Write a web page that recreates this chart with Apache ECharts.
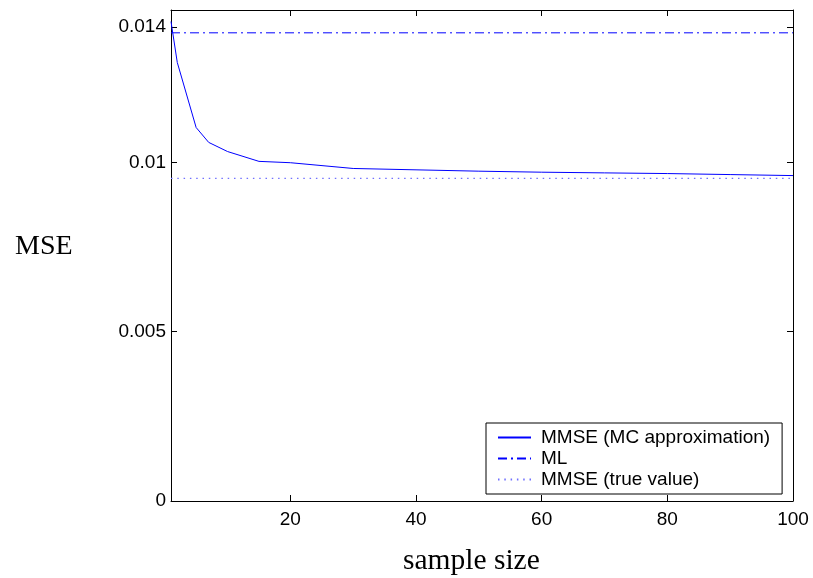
<!DOCTYPE html>
<html>
<head>
<meta charset="utf-8">
<script src="https://cdn.jsdelivr.net/npm/echarts@6/dist/echarts.min.js"></script>
<style>html,body{margin:0;padding:0;background:#fff}#c{width:813px;height:578px}</style>
</head>
<body>
<div id="c"></div>
<script>
const sampleSizes = [1, 2, 5, 7, 10, 15, 20, 30, 40, 50, 60, 70, 80, 90, 100];
const mmseMC = [0.01416, 0.01295, 0.01103, 0.01059, 0.01032, 0.01003, 0.00999, 0.00982, 0.00978, 0.00974, 0.00971, 0.00969, 0.00967, 0.00964, 0.00961];
const mlValue = 0.013826;
const mmseTrue = 0.009528;
const xTicks = [20, 40, 60, 80, 100];
const yTicks = [0, 0.005, 0.01, 0.014];
const yTickLabels = ['0', '0.005', '0.01', '0.014'];
const seriesNames = ['MMSE (MC approximation)', 'ML', 'MMSE (true value)'];

const xRange = [sampleSizes[0], sampleSizes[sampleSizes.length - 1]];
const sansFont = 'Liberation Sans';
const serifFont = 'Liberation Serif';

const chart = echarts.init(document.getElementById('c'), null, {renderer: 'canvas'});

function xAxisDef(pos, showLabel) {
  return {
    type: 'value', position: pos, min: 1, max: 100,
    axisLine: {show: true, onZero: false, lineStyle: {color: '#000', width: 1}},
    axisTick: {show: true, inside: true, length: 6, customValues: xTicks, lineStyle: {color: '#000'}},
    axisLabel: {show: showLabel, customValues: xTicks, color: '#000', fontFamily: sansFont, fontSize: 19, margin: 9},
    splitLine: {show: false}
  };
}
function yAxisDef(pos, showLabel) {
  return {
    type: 'value', position: pos, min: 0, max: 0.0145,
    axisLine: {show: true, onZero: false, lineStyle: {color: '#000', width: 1}},
    axisTick: {show: true, inside: true, length: 6, customValues: yTicks, lineStyle: {color: '#000'}},
    axisLabel: {show: showLabel, customValues: yTicks, color: '#000', fontFamily: sansFont, fontSize: 19, margin: 5,
      formatter: v => { const i = yTicks.findIndex(t => Math.abs(t - v) < 1e-9); return i >= 0 ? yTickLabels[i] : ''; }},
    splitLine: {show: false}
  };
}

chart.setOption({
  animation: false,
  backgroundColor: '#fff',
  grid: {left: 171, right: 20, top: 10, bottom: 77, containLabel: false},
  xAxis: [xAxisDef('bottom', true), xAxisDef('top', false)],
  yAxis: [yAxisDef('left', true), yAxisDef('right', false)],
  legend: {
    orient: 'vertical', left: 486, top: 423,
    backgroundColor: '#fff', borderColor: '#000', borderWidth: 1, borderRadius: 0,
    padding: [4, 12, 4, 11], itemGap: 0, itemWidth: 33, itemHeight: 20,
    itemStyle: {opacity: 0},
    textStyle: {color: '#000', fontFamily: sansFont, fontSize: 19, lineHeight: 21, padding: [0, 0, 0, 5]},
    data: seriesNames
  },
  graphic: [
    {type: 'text', left: 15, top: 233, style: {text: 'MSE', font: '28px "' + serifFont + '"', fill: '#000'}},
    {type: 'text', left: 403, top: 546, style: {text: 'sample size', font: '29.5px "' + serifFont + '"', fill: '#000'}}
  ],
  series: [
    {name: seriesNames[0], type: 'line', symbol: 'none', data: sampleSizes.map((s, i) => [s, mmseMC[i]]),
      lineStyle: {color: '#0000ff', width: 1}, itemStyle: {color: '#0000ff'}},
    {name: seriesNames[1], type: 'line', symbol: 'none', data: xRange.map(s => [s, mlValue]),
      lineStyle: {color: '#0000ff', width: 1, type: [9, 4, 2, 4]}, itemStyle: {color: '#0000ff'}},
    {name: seriesNames[2], type: 'line', symbol: 'none', data: xRange.map(s => [s, mmseTrue]),
      lineStyle: {color: '#7070ff', width: 1.2, type: [1.5, 4.8]}, itemStyle: {color: '#7070ff'}}
  ]
});
</script>
</body>
</html>
